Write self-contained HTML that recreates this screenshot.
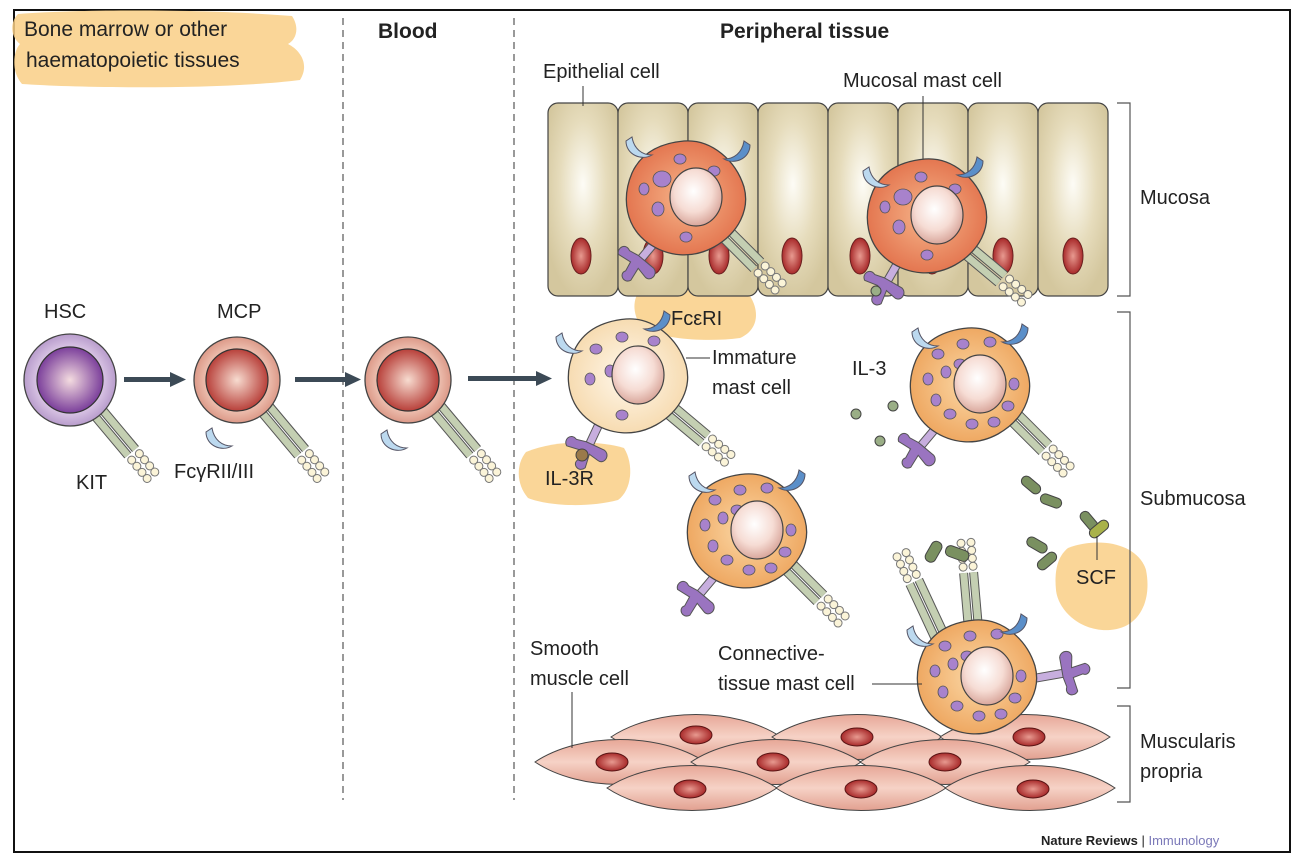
<!DOCTYPE html>
<html><head><meta charset="utf-8"><style>
html,body{margin:0;padding:0;background:#fff;}
svg{display:block;font-family:"Liberation Sans","DejaVu Sans",sans-serif;}
</style></head><body>
<svg width="1303" height="861" viewBox="0 0 1303 861" xmlns="http://www.w3.org/2000/svg">
<defs>
<radialGradient id="epi" cx="0.5" cy="0.42" r="0.6"><stop offset="0" stop-color="#fdfcf6"/><stop offset="0.55" stop-color="#e6dcbc"/><stop offset="1" stop-color="#d4c79e"/></radialGradient>
<radialGradient id="rednuc" cx="0.5" cy="0.5" r="0.5"><stop offset="0" stop-color="#e89a90"/><stop offset="1" stop-color="#a82a2a"/></radialGradient>
<radialGradient id="nucleus" cx="0.45" cy="0.4" r="0.6"><stop offset="0" stop-color="#fff"/><stop offset="0.6" stop-color="#f6dcd4"/><stop offset="1" stop-color="#d9a79c"/></radialGradient>
<radialGradient id="mucosal" cx="0.5" cy="0.5" r="0.6"><stop offset="0" stop-color="#f6b58a"/><stop offset="1" stop-color="#e06a45"/></radialGradient>
<radialGradient id="ctmc" cx="0.5" cy="0.5" r="0.6"><stop offset="0" stop-color="#fbd8a6"/><stop offset="1" stop-color="#ec9f55"/></radialGradient>
<radialGradient id="immat" cx="0.5" cy="0.5" r="0.6"><stop offset="0" stop-color="#fff8ec"/><stop offset="1" stop-color="#f5d6a6"/></radialGradient>
<radialGradient id="hscout" cx="0.5" cy="0.5" r="0.5"><stop offset="0.6" stop-color="#e6d4ee"/><stop offset="1" stop-color="#b89ccc"/></radialGradient>
<radialGradient id="hscin" cx="0.5" cy="0.5" r="0.5"><stop offset="0" stop-color="#f4dce0"/><stop offset="1" stop-color="#7b3f9b"/></radialGradient>
<radialGradient id="mcpout" cx="0.5" cy="0.5" r="0.5"><stop offset="0.6" stop-color="#f4cfc0"/><stop offset="1" stop-color="#dc9988"/></radialGradient>
<radialGradient id="mcpin" cx="0.5" cy="0.5" r="0.5"><stop offset="0" stop-color="#f7dcd0"/><stop offset="1" stop-color="#b8403a"/></radialGradient>
<linearGradient id="muscle" x1="0" y1="0" x2="0" y2="1"><stop offset="0" stop-color="#e7a797"/><stop offset="0.5" stop-color="#f6d2c6"/><stop offset="1" stop-color="#e2a090"/></linearGradient>

<g id="kit">
  <line x1="0" y1="0" x2="0" y2="62" stroke="#555" stroke-width="9"/>
  <line x1="0" y1="0" x2="0" y2="62" stroke="#c4cfb2" stroke-width="7"/>
  <line x1="10" y1="0" x2="10" y2="62" stroke="#555" stroke-width="9"/>
  <line x1="10" y1="0" x2="10" y2="62" stroke="#c4cfb2" stroke-width="7"/>
  <g fill="#fbf4d8" stroke="#777" stroke-width="1">
    <circle cx="0" cy="68" r="4"/><circle cx="0" cy="76" r="4"/><circle cx="0" cy="84" r="4"/><circle cx="0" cy="92" r="4"/>
    <circle cx="10" cy="68" r="4"/><circle cx="10" cy="76" r="4"/><circle cx="10" cy="84" r="4"/><circle cx="10" cy="92" r="4"/>
  </g>
</g>
<g id="il3r">
  <line x1="0" y1="0" x2="0" y2="40" stroke="#555" stroke-width="9"/>
  <line x1="0" y1="0" x2="0" y2="40" stroke="#c7aede" stroke-width="7"/>
  <path d="M-4,38 L-14,40 C-22,36 -26,46 -20,50 L-6,48 L-4,58 C-8,64 2,70 6,62 L4,48 L14,50 C22,52 24,40 16,38 L4,38Z" fill="#9a74c0" stroke="#555" stroke-width="1"/>
</g>
<path id="cresL" d="M-12,-8 C-12,6 4,12 14,6 C4,6 -4,0 -6,-12 Z" fill="#bcd9ef" stroke="#556" stroke-width="1"/>
<path id="cresR" d="M12,-8 C12,6 -4,12 -14,6 C-4,6 4,0 6,-12 Z" fill="#5b8fc9" stroke="#556" stroke-width="1"/>
<path id="body" d="M0,-56 C28,-58 52,-36 60,-10 C66,12 55,36 30,50 C8,62 -16,60 -36,46 C-58,30 -63,2 -52,-24 C-42,-46 -22,-54 0,-56Z" stroke="#444" stroke-width="1.3"/>
<g id="gran" fill="#a882cc" stroke="#555" stroke-width="0.8">
  <ellipse cx="-30" cy="-30" rx="6" ry="5"/><ellipse cx="-5" cy="-40" rx="6" ry="5"/><ellipse cx="22" cy="-42" rx="6" ry="5"/>
  <ellipse cx="-40" cy="-5" rx="5" ry="6"/><ellipse cx="-22" cy="-12" rx="5" ry="6"/><ellipse cx="-8" cy="-20" rx="6" ry="5"/>
  <ellipse cx="46" cy="0" rx="5" ry="6"/><ellipse cx="40" cy="22" rx="6" ry="5"/><ellipse cx="-32" cy="16" rx="5" ry="6"/>
  <ellipse cx="-18" cy="30" rx="6" ry="5"/><ellipse cx="4" cy="40" rx="6" ry="5"/><ellipse cx="26" cy="38" rx="6" ry="5"/>
</g>
<g id="granfew" fill="#a882cc" stroke="#555" stroke-width="0.8">
  <ellipse cx="-4" cy="-38" rx="6" ry="5"/><ellipse cx="-22" cy="-18" rx="9" ry="8"/><ellipse cx="-40" cy="-8" rx="5" ry="6"/>
  <ellipse cx="30" cy="-26" rx="6" ry="5"/><ellipse cx="-26" cy="12" rx="6" ry="7"/><ellipse cx="2" cy="40" rx="6" ry="5"/>
</g>
<g id="nuc"><ellipse cx="12" cy="0" rx="26" ry="29" fill="url(#nucleus)" stroke="#444" stroke-width="1.2"/></g>
<g id="redn"><ellipse cx="0" cy="0" rx="10" ry="18" fill="url(#rednuc)" stroke="#6a2020" stroke-width="1"/></g>
<g id="musn"><ellipse cx="0" cy="0" rx="16" ry="9" fill="url(#rednuc)" stroke="#5a1515" stroke-width="1"/></g>
<path id="spindle" d="M-85,0 C-40,-30 40,-30 85,0 C40,30 -40,30 -85,0Z" fill="url(#muscle)" stroke="#444" stroke-width="1"/>
</defs>

<rect x="14" y="10" width="1276" height="842" fill="#fff" stroke="#111" stroke-width="2"/>

<!-- highlights -->
<path d="M18,14 C100,8 220,10 292,16 C300,28 296,40 288,44 C300,50 310,64 300,80 C220,90 80,88 22,84 C10,70 14,50 20,44 C10,36 10,22 18,14Z" fill="#f9cf86" opacity="0.85"/>
<path d="M640,290 C680,284 720,290 750,296 C760,312 758,330 740,338 C710,342 670,340 644,330 C632,316 632,300 640,290Z" fill="#f9cf86" opacity="0.85"/>
<path d="M526,452 C556,440 596,440 624,448 C634,464 632,490 618,500 C588,508 548,506 528,498 C516,484 516,464 526,452Z" fill="#f9cf86" opacity="0.85"/>
<path d="M1068,548 C1100,536 1138,544 1146,570 C1152,600 1140,628 1110,630 C1080,632 1058,610 1056,590 C1054,570 1058,556 1068,548Z" fill="#f9cf86" opacity="0.85"/>

<text x="24" y="36" font-size="21" fill="#222">Bone marrow or other</text>
<text x="26" y="67" font-size="21" fill="#222">haematopoietic tissues</text>
<text x="378" y="38" font-size="21" font-weight="bold" fill="#222">Blood</text>
<text x="720" y="38" font-size="21" font-weight="bold" fill="#222">Peripheral tissue</text>

<line x1="343" y1="18" x2="343" y2="800" stroke="#333" stroke-width="1" stroke-dasharray="7,5"/>
<line x1="514" y1="18" x2="514" y2="800" stroke="#333" stroke-width="1" stroke-dasharray="7,5"/>

<!-- epithelium -->
<g stroke="#444" stroke-width="1.2" fill="url(#epi)">
<rect x="548" y="103" width="70" height="193" rx="10"/><rect x="618" y="103" width="70" height="193" rx="10"/>
<rect x="688" y="103" width="70" height="193" rx="10"/><rect x="758" y="103" width="70" height="193" rx="10"/>
<rect x="828" y="103" width="70" height="193" rx="10"/><rect x="898" y="103" width="70" height="193" rx="10"/>
<rect x="968" y="103" width="70" height="193" rx="10"/><rect x="1038" y="103" width="70" height="193" rx="10"/>
</g>
<use href="#redn" x="581" y="256"/><use href="#redn" x="653" y="256"/><use href="#redn" x="719" y="256"/><use href="#redn" x="792" y="256"/>
<use href="#redn" x="860" y="256"/><use href="#redn" x="932" y="256"/><use href="#redn" x="1003" y="256"/><use href="#redn" x="1073" y="256"/>

<text x="543" y="78" font-size="20" fill="#222">Epithelial cell</text>
<line x1="583" y1="86" x2="583" y2="106" stroke="#333"/>
<text x="843" y="87" font-size="20" fill="#222">Mucosal mast cell</text>
<line x1="923" y1="96" x2="923" y2="160" stroke="#333"/>

<!-- mucosal mast cell 1 -->
<g transform="translate(684,197)">
  <use href="#kit" transform="translate(26,28) rotate(-45)"/>
  <use href="#il3r" transform="translate(-18,32) rotate(40)"/>
  <use href="#body" fill="url(#mucosal)"/><use href="#granfew"/><use href="#nuc"/>
  <use href="#cresL" x="-46" y="-48"/><use href="#cresR" x="54" y="-44"/>
</g>
<!-- mucosal mast cell 2 -->
<g transform="translate(925,215)">
  <use href="#kit" transform="translate(26,28) rotate(-50)"/>
  <use href="#il3r" transform="translate(-18,32) rotate(30)"/>
  <circle cx="-49" cy="76" r="5" fill="#9aae86" stroke="#444"/>
  <use href="#body" fill="url(#mucosal)"/><use href="#granfew"/><use href="#nuc"/>
  <use href="#cresL" x="-50" y="-36"/><use href="#cresR" x="46" y="-46"/>
</g>

<text x="671" y="325" font-size="20" fill="#222">FcεRI</text>

<!-- HSC -->
<use href="#kit" transform="translate(88,408) rotate(-40)"/>
<circle cx="70" cy="380" r="46" fill="url(#hscout)" stroke="#444" stroke-width="1.3"/>
<circle cx="70" cy="380" r="33" fill="url(#hscin)" stroke="#333" stroke-width="1.2"/>
<text x="44" y="318" font-size="20" fill="#222">HSC</text>
<text x="76" y="489" font-size="20" fill="#222">KIT</text>

<!-- MCP -->
<use href="#kit" transform="translate(258,408) rotate(-40)"/>
<circle cx="237" cy="380" r="43" fill="url(#mcpout)" stroke="#444" stroke-width="1.3"/>
<circle cx="237" cy="380" r="31" fill="url(#mcpin)" stroke="#333" stroke-width="1.2"/>
<use href="#cresL" x="218" y="440"/>
<text x="217" y="318" font-size="20" fill="#222">MCP</text>
<text x="174" y="478" font-size="20" fill="#222">FcγRII/III</text>

<!-- blood cell -->
<use href="#kit" transform="translate(430,408) rotate(-40)"/>
<circle cx="408" cy="380" r="43" fill="url(#mcpout)" stroke="#444" stroke-width="1.3"/>
<circle cx="408" cy="380" r="31" fill="url(#mcpin)" stroke="#333" stroke-width="1.2"/>
<use href="#cresL" x="393" y="442"/>

<!-- arrows -->
<g fill="#3c4a56">
<rect x="124" y="377" width="48" height="5"/><path d="M170,372 L186,379.5 L170,387Z"/>
<rect x="295" y="377" width="52" height="5"/><path d="M345,372 L361,379.5 L345,387Z"/>
<rect x="468" y="376" width="70" height="5"/><path d="M536,371 L552,378.5 L536,386Z"/>
</g>

<!-- immature -->
<g transform="translate(626,375)">
  <use href="#kit" transform="translate(28,28) rotate(-50)"/>
  <use href="#il3r" transform="translate(-20,34) rotate(25)"/>
  <circle cx="-44" cy="80" r="6" fill="#9a7a4a" stroke="#444"/>
  <use href="#body" fill="url(#immat)"/>
  <g fill="#a882cc" stroke="#555" stroke-width="0.8"><ellipse cx="-30" cy="-26" rx="6" ry="5"/><ellipse cx="-4" cy="-38" rx="6" ry="5"/><ellipse cx="28" cy="-34" rx="6" ry="5"/><ellipse cx="-36" cy="4" rx="5" ry="6"/><ellipse cx="-16" cy="-4" rx="5" ry="6"/><ellipse cx="-4" cy="40" rx="6" ry="5"/></g>
  <use href="#nuc"/>
  <use href="#cresL" x="-58" y="-30"/><use href="#cresR" x="32" y="-52"/>
</g>
<line x1="686" y1="358" x2="710" y2="358" stroke="#333"/>
<text x="712" y="364" font-size="20" fill="#222">Immature</text>
<text x="712" y="394" font-size="20" fill="#222">mast cell</text>
<text x="545" y="485" font-size="20" fill="#222">IL-3R</text>

<!-- IL-3 -->
<text x="852" y="375" font-size="20" fill="#222">IL-3</text>
<g fill="#9aae86" stroke="#444" stroke-width="1"><circle cx="893" cy="406" r="5"/><circle cx="856" cy="414" r="5"/><circle cx="880" cy="441" r="5"/><circle cx="915" cy="450" r="5"/></g>

<!-- submucosa mast cell right -->
<g transform="translate(968,384)">
  <use href="#kit" transform="translate(30,24) rotate(-45)"/>
  <use href="#il3r" transform="translate(-22,32) rotate(40)"/>
  <use href="#body" fill="url(#ctmc)"/><use href="#gran"/><use href="#nuc"/>
  <use href="#cresL" x="-44" y="-44"/><use href="#cresR" x="48" y="-48"/>
</g>

<!-- SCF -->
<g fill="#7a9060" stroke="#444" stroke-width="1">
<rect x="1020" y="480" width="22" height="10" rx="5" transform="rotate(40 1031 485)"/>
<rect x="1040" y="496" width="22" height="10" rx="5" transform="rotate(20 1051 501)"/>
<rect x="1078" y="516" width="22" height="10" rx="5" transform="rotate(50 1089 521)"/>
<rect x="1026" y="540" width="22" height="10" rx="5" transform="rotate(30 1037 545)"/>
<rect x="1036" y="556" width="22" height="10" rx="5" transform="rotate(-40 1047 561)"/>
<rect x="1088" y="524" width="22" height="10" rx="5" transform="rotate(-40 1099 529)" fill="#a9b24a"/>
</g>
<line x1="1097" y1="536" x2="1097" y2="560" stroke="#333"/>
<text x="1076" y="584" font-size="20" fill="#222">SCF</text>

<!-- middle mast cell -->
<g transform="translate(745,530)">
  <use href="#kit" transform="translate(28,28) rotate(-45)"/>
  <use href="#il3r" transform="translate(-20,34) rotate(40)"/>
  <use href="#body" fill="url(#ctmc)"/><use href="#gran"/><use href="#nuc"/>
  <use href="#cresL" x="-44" y="-46"/><use href="#cresR" x="48" y="-48"/>
</g>

<!-- muscularis -->
<use href="#spindle" x="696" y="737"/><use href="#spindle" x="857" y="737"/><use href="#spindle" x="1025" y="737"/>
<use href="#spindle" x="620" y="762"/><use href="#spindle" x="776" y="762"/><use href="#spindle" x="945" y="762"/>
<use href="#spindle" x="692" y="788"/><use href="#spindle" x="861" y="788"/><use href="#spindle" x="1030" y="788"/>
<use href="#musn" x="696" y="735"/><use href="#musn" x="857" y="737"/><use href="#musn" x="1029" y="737"/>
<use href="#musn" x="612" y="762"/><use href="#musn" x="773" y="762"/><use href="#musn" x="945" y="762"/>
<use href="#musn" x="690" y="789"/><use href="#musn" x="861" y="789"/><use href="#musn" x="1033" y="789"/>
<text x="530" y="655" font-size="20" fill="#222">Smooth</text>
<text x="530" y="685" font-size="20" fill="#222">muscle cell</text>
<line x1="572" y1="692" x2="572" y2="748" stroke="#333"/>

<!-- connective tissue mast cell -->
<g transform="translate(975,676)">
  <use href="#kit" transform="translate(-30,-40) rotate(155)"/>
  <use href="#kit" transform="translate(4,-42) rotate(175)"/>
  <g fill="#7a9060" stroke="#444"><rect x="-52" y="-130" width="22" height="11" rx="5" transform="rotate(-60 -41 -124)"/><rect x="-30" y="-128" width="24" height="11" rx="5" transform="rotate(20 -18 -122)"/></g>
  <use href="#il3r" transform="translate(50,4) rotate(-100)"/>
  <use href="#body" fill="url(#ctmc)"/><use href="#gran"/><use href="#nuc"/>
  <use href="#cresL" x="-56" y="-38"/><use href="#cresR" x="40" y="-50"/>
</g>
<text x="718" y="660" font-size="20" fill="#222">Connective-</text>
<text x="718" y="690" font-size="20" fill="#222">tissue mast cell</text>
<line x1="872" y1="684" x2="922" y2="684" stroke="#333"/>

<!-- brackets -->
<g stroke="#555" stroke-width="1.2" fill="none">
<path d="M1117,103 H1130 V296 H1117"/>
<path d="M1117,312 H1130 V688 H1117"/>
<path d="M1117,706 H1130 V802 H1117"/>
</g>
<text x="1140" y="204" font-size="20" fill="#222">Mucosa</text>
<text x="1140" y="505" font-size="20" fill="#222">Submucosa</text>
<text x="1140" y="748" font-size="20" fill="#222">Muscularis</text>
<text x="1140" y="778" font-size="20" fill="#222">propria</text>

<text x="1041" y="845" font-size="13" fill="#222" font-weight="bold">Nature Reviews <tspan font-weight="normal">|</tspan> <tspan fill="#7a78b8" font-weight="normal">Immunology</tspan></text>
</svg>
</body></html>
